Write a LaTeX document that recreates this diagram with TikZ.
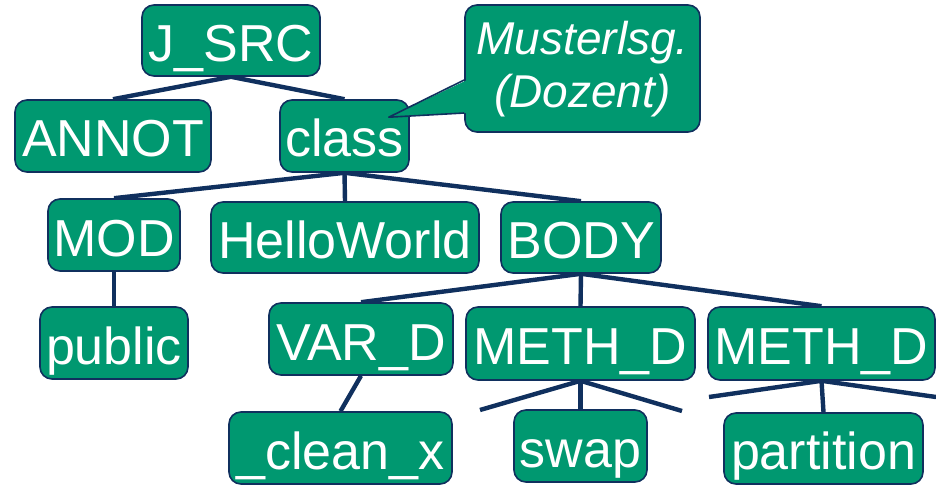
\documentclass[tikz,border=0pt]{standalone}
\usepackage{fontspec}
\setmainfont{Liberation Sans}
\usetikzlibrary{backgrounds}
\definecolor{boxgreen}{RGB}{0,152,112}
\definecolor{navy}{RGB}{16,48,94}
\tikzset{
  treebox/.style={draw=navy, line width=1.6pt, fill=boxgreen, rounded corners=12pt,
    text=white, inner sep=0pt, text height=42pt, text depth=0pt,
    font=\fontsize{52}{56}\selectfont, minimum height=72pt},
  edge/.style={draw=navy, line width=4.4pt},
}
\begin{document}
\begin{tikzpicture}[x=1pt,y=-1pt]
\useasboundingbox (0,0) rectangle (936,486);

% tree nodes
\node[treebox, minimum width=178pt, minimum height=71pt] (jsrc) at (231,40.5) {J\_SRC};
\node[treebox, minimum width=196pt] (annot) at (113,136) {ANNOT};
\node[treebox, minimum width=129pt] (class) at (344.5,136) {class};
\node[treebox, minimum width=132pt] (mod) at (114,235) {MOD};
\node[treebox, minimum width=268pt, minimum height=71pt] (hello) at (345,237.5) {HelloWorld};
\node[treebox, minimum width=160pt, minimum height=71pt] (body) at (581,237.5) {BODY};
\node[treebox, minimum width=148pt] (public) at (114,343) {public};
\node[treebox, minimum width=184pt] (vard) at (361,339) {VAR\_D};
\node[treebox, minimum width=229pt, minimum height=73pt] (methA) at (580.5,343.5) {METH\_D};
\node[treebox, minimum width=227pt, minimum height=73pt] (methB) at (821.5,343.5) {METH\_D};
\node[treebox, minimum width=223pt] (clean) at (340.5,448) {\_clean\_x};
\node[treebox, minimum width=133pt] (swap) at (580.5,446) {swap};
\node[treebox, minimum width=199pt, minimum height=71pt] (partition) at (823.5,448.5) {partition};

% loose ends of the lower branches
\coordinate (stubAl) at (480,410);
\coordinate (stubAr) at (682,411);
\coordinate (stubBl) at (709,397);
\coordinate (stubBr) at (936,397);

% connectors
\begin{scope}[on background layer]
  \draw[edge] (jsrc.south) -- (annot.north);
  \draw[edge] (jsrc.south) -- (class.north);
  \draw[edge] (class.south) -- (mod.north);
  \draw[edge] (class.south) -- (hello.north);
  \draw[edge] (class.south) -- (body.north);
  \draw[edge] (mod.south) -- (public.north);
  \draw[edge] (body.south) -- (vard.north);
  \draw[edge] (body.south) -- (methA.north);
  \draw[edge] (body.south) -- (methB.north);
  \draw[edge] (vard.south) -- (clean.north);
  \draw[edge] (methA.south) -- (stubAl);
  \draw[edge] (methA.south) -- (swap.north);
  \draw[edge] (methA.south) -- (stubAr);
  \draw[edge] (methB.south) -- (stubBl);
  \draw[edge] (methB.south) -- (partition.north);
  \draw[edge] (methB.south) -- (stubBr);
\end{scope}

% callout box with its pointer onto "class"
\node[treebox, minimum width=235pt, minimum height=127pt, align=center,
      font=\fontsize{46}{53}\selectfont\itshape, text height=79pt, text depth=0pt]
      (note) at (582.5,68.5) {Musterlsg.\\ (Dozent)};
\coordinate (tip) at ([xshift=-21pt,yshift=-18pt]class.north east);
\fill[boxgreen] ([xshift=3pt,yshift=-11.5pt]note.west) -- (tip)
  -- ([xshift=3pt,yshift=-44.5pt]note.west) -- cycle;
\draw[navy, line width=1.6pt, line join=round]
  ([yshift=-11.5pt]note.west) -- (tip) -- ([yshift=-44.5pt]note.west);
\end{tikzpicture}
\end{document}
